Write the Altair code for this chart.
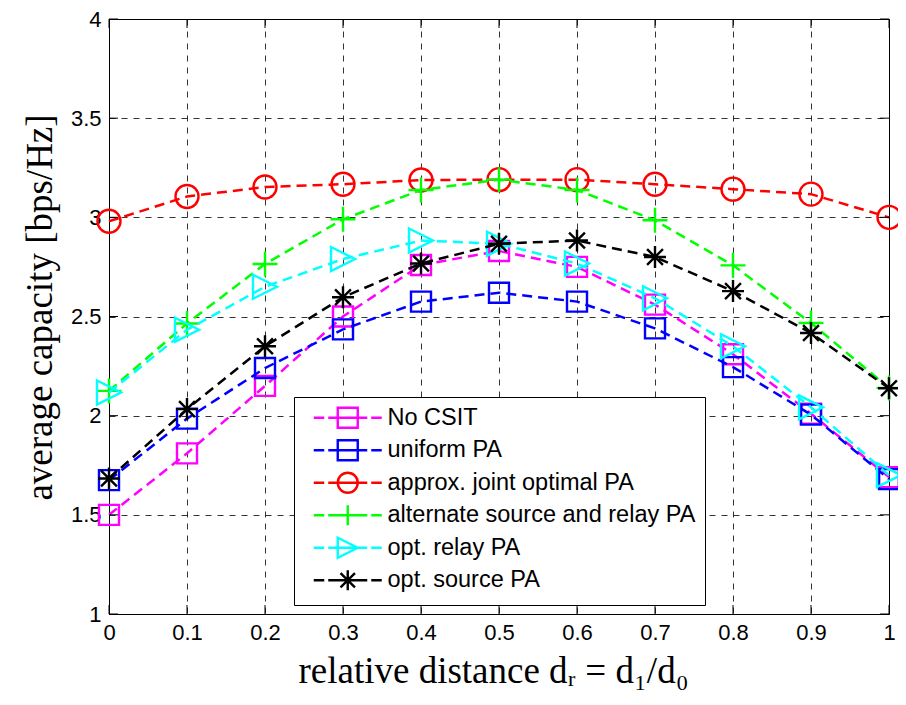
import altair as alt
import pandas as pd

# ---- data ----
x_vals = [0.0, 0.1, 0.2, 0.3, 0.4, 0.5, 0.6, 0.7, 0.8, 0.9, 1.0]
no_csit = [1.50, 1.81, 2.15, 2.50, 2.76, 2.83, 2.75, 2.56, 2.31, 2.01, 1.69]
uniform_pa = [1.675, 1.985, 2.24, 2.435, 2.575, 2.62, 2.575, 2.44, 2.245, 2.005, 1.68]
approx_joint = [2.98, 3.105, 3.153, 3.167, 3.188, 3.19, 3.19, 3.167, 3.142, 3.117, 3.0]
alternate_pa = [2.125, 2.465, 2.765, 2.99, 3.138, 3.19, 3.138, 2.985, 2.758, 2.467, 2.14]
opt_relay = [2.117, 2.433, 2.65, 2.79, 2.883, 2.867, 2.767, 2.592, 2.35, 2.042, 1.70]
opt_source = [1.683, 2.033, 2.35, 2.597, 2.767, 2.867, 2.883, 2.80, 2.628, 2.417, 2.138]

series_names = ["No CSIT", "uniform PA", "approx. joint optimal PA",
                "alternate source and relay PA", "opt. relay PA", "opt. source PA"]
series_values = [no_csit, uniform_pa, approx_joint, alternate_pa, opt_relay, opt_source]

x_ticks = [0.0, 0.1, 0.2, 0.3, 0.4, 0.5, 0.6, 0.7, 0.8, 0.9, 1.0]
y_ticks = [1.0, 1.5, 2.0, 2.5, 3.0, 3.5, 4.0]

# ---- styles ----
colors = ["#ff00ff", "#0000ff", "#ff0000", "#00ff00", "#00ffff", "#000000"]
SQUARE = "M-1,-1H1V1H-1Z"
CIRCLE = "M1,0A1,1,0,1,1,-1,0A1,1,0,1,1,1,0Z"
PLUS = "M-1,0H1M0,-1V1"
TRI = "M-1,-1L1,0L-1,1Z"
STAR = "M-1,0H1M0,-1V1M-0.72,-0.72L0.72,0.72M-0.72,0.72L0.72,-0.72"
markers = [SQUARE, SQUARE, CIRCLE, PLUS, TRI, STAR]
marker_sizes = [400, 400, 529, 625, 576, 484]
DASH = "M-3.4,0H-2.35M-1.95,0H1.95M2.35,0H3.4"
legend_paths = [DASH + m for m in markers]

W, H = 780, 595

rows = []
for name, vals in zip(series_names, series_values):
    for xv, yv in zip(x_vals, vals):
        rows.append({"x": xv, "y": yv, "series": name})
df = pd.DataFrame(rows)

xscale = alt.Scale(domain=[0, 1], nice=False, zero=False)
yscale = alt.Scale(domain=[1, 4], nice=False, zero=False)

x_axis = alt.Axis(
    values=x_ticks, format=".1~f", title="relative distance dᵣ = d₁/d₀",
    labelFlush=False, labelOverlap=False, labelPadding=8, labelBaseline="top",
    titleX=384, titleY=68, titleAlign="center", titleBaseline="alphabetic")
y_axis = alt.Axis(
    values=y_ticks, format="~g", title="average capacity [bps/Hz]",
    labelFlush=False, labelOverlap=False, labelPadding=8,
    titleX=-69, titleY=288, titleAngle=-90, titleAlign="center", titleBaseline="middle")
x_enc = alt.X("x:Q", scale=xscale, axis=x_axis)
y_enc = alt.Y("y:Q", scale=yscale, axis=y_axis)

layers = []
for name, c, m, s in zip(series_names, colors, markers, marker_sizes):
    base = alt.Chart(df).transform_filter(alt.datum.series == name)
    layers.append(base.mark_line(color=c, strokeWidth=2.5, strokeDash=[10, 6]).encode(x=x_enc, y=y_enc))
    layers.append(base.mark_point(shape=m, size=s, color=c, filled=False, strokeWidth=2.4, opacity=1)
                  .encode(x=x_enc, y=y_enc))

# inner (MATLAB-style) ticks
xt = alt.Chart(pd.DataFrame({"x": x_ticks}))
yt = alt.Chart(pd.DataFrame({"y": y_ticks}))
layers.append(xt.mark_rule(color="black", strokeWidth=1).encode(x=x_enc, y=alt.value(H), y2=alt.value(H - 9)))
layers.append(xt.mark_rule(color="black", strokeWidth=1).encode(x=x_enc, y=alt.value(0), y2=alt.value(9)))
layers.append(yt.mark_rule(color="black", strokeWidth=1).encode(y=y_enc, x=alt.value(0), x2=alt.value(9)))
layers.append(yt.mark_rule(color="black", strokeWidth=1).encode(y=y_enc, x=alt.value(W - 9), x2=alt.value(W)))

# legend-only layer
leg = alt.Legend(title=None, orient="none", legendX=185, legendY=378,
                 symbolSize=400, symbolStrokeWidth=2.4, symbolOffset=33,
                 labelOffset=28, labelFont="Liberation Sans", labelFontSize=23.5,
                 labelColor="black", padding=9, rowPadding=1.5,
                 strokeColor="black", fillColor="white", labelLimit=600)
legend_layer = alt.Chart(pd.DataFrame({"series": series_names})).mark_point(
    filled=False, opacity=1, strokeWidth=2.4).encode(
    color=alt.Color("series:N", scale=alt.Scale(domain=series_names, range=colors), legend=leg),
    shape=alt.Shape("series:N", scale=alt.Scale(domain=series_names, range=legend_paths), legend=leg),
).transform_filter("false")
layers.append(legend_layer)

chart = alt.layer(*layers).properties(
    width=W, height=H,
    autosize=alt.AutoSizeParams(type="none"),
    padding={"left": 101, "top": 11, "right": 9, "bottom": 78},
).configure_view(stroke="black", strokeWidth=1).configure_axis(
    grid=True, gridColor="black", gridDash=[6, 6], gridWidth=0.8, gridOpacity=1,
    domainColor="black", domainWidth=1, ticks=False,
    labelFont="Liberation Sans", labelFontSize=22, labelColor="black",
    titleFont="Liberation Serif", titleFontSize=37, titleColor="black", titleFontWeight="normal",
)

chart.save("out.html", embed_options={"renderer": "svg", "actions": False})
